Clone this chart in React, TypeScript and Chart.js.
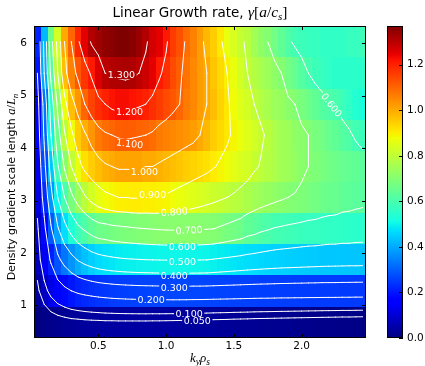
import React, { useEffect, useRef } from "react";
import { Chart, registerables } from "chart.js";

Chart.register(...registerables);

// ---------- data ----------
const KY = [0.05, 0.10, 0.15, 0.20, 0.25, 0.30, 0.35, 0.40, 0.45, 0.50, 0.55, 0.60, 0.65, 0.70, 0.75, 0.80, 0.85, 0.90, 0.95, 1.00, 1.05, 1.10, 1.15, 1.20, 1.25, 1.30, 1.35, 1.40, 1.45, 1.50, 1.55, 1.60, 1.65, 1.70, 1.75, 1.80, 1.85, 1.90, 1.95, 2.00, 2.05, 2.10, 2.15, 2.20, 2.25, 2.30, 2.35, 2.40, 2.45];
const A_LN = [0.68, 1.28, 1.87, 2.46, 3.06, 3.65, 4.25, 4.84, 5.43, 6.03];

const GAMMA_068 = [0.0, 0.01, 0.015, 0.02, 0.025, 0.03, 0.032, 0.035, 0.037, 0.038, 0.04, 0.04, 0.041, 0.041, 0.041, 0.041, 0.041, 0.04, 0.04, 0.039, 0.038, 0.037, 0.036, 0.035, 0.034, 0.033, 0.031, 0.03, 0.029, 0.027, 0.026, 0.025, 0.023, 0.022, 0.021, 0.02, 0.019, 0.018, 0.017, 0.016, 0.015, 0.014, 0.013, 0.012, 0.011, 0.01, 0.01, 0.009, 0.008];
const GAMMA_128 = [0.04, 0.08, 0.12, 0.155, 0.18, 0.20, 0.215, 0.225, 0.233, 0.24, 0.245, 0.25, 0.253, 0.256, 0.258, 0.26, 0.261, 0.262, 0.263, 0.264, 0.265, 0.265, 0.265, 0.264, 0.264, 0.263, 0.262, 0.261, 0.26, 0.259, 0.258, 0.257, 0.256, 0.255, 0.255, 0.254, 0.253, 0.253, 0.252, 0.252, 0.251, 0.251, 0.25, 0.25, 0.25, 0.249, 0.249, 0.248, 0.248];
const GAMMA_187 = [0.07, 0.14, 0.21, 0.28, 0.33, 0.37, 0.405, 0.43, 0.45, 0.465, 0.475, 0.482, 0.488, 0.492, 0.495, 0.497, 0.499, 0.50, 0.501, 0.502, 0.503, 0.503, 0.503, 0.502, 0.501, 0.50, 0.495, 0.49, 0.485, 0.48, 0.475, 0.47, 0.466, 0.462, 0.458, 0.455, 0.452, 0.45, 0.448, 0.446, 0.444, 0.442, 0.44, 0.439, 0.438, 0.437, 0.436, 0.436, 0.435];
const GAMMA_246 = [0.09, 0.18, 0.29, 0.39, 0.47, 0.53, 0.58, 0.61, 0.64, 0.66, 0.665, 0.675, 0.68, 0.685, 0.69, 0.695, 0.698, 0.702, 0.705, 0.707, 0.708, 0.708, 0.708, 0.707, 0.705, 0.702, 0.70, 0.69, 0.68, 0.67, 0.66, 0.64, 0.63, 0.615, 0.605, 0.595, 0.59, 0.585, 0.58, 0.575, 0.57, 0.57, 0.565, 0.56, 0.56, 0.555, 0.555, 0.55, 0.549];
const GAMMA_306 = [0.12, 0.23, 0.37, 0.50, 0.60, 0.68, 0.74, 0.79, 0.83, 0.86, 0.88, 0.89, 0.90, 0.90, 0.905, 0.905, 0.90, 0.90, 0.895, 0.89, 0.88, 0.87, 0.86, 0.85, 0.84, 0.83, 0.82, 0.81, 0.80, 0.79, 0.78, 0.765, 0.75, 0.74, 0.73, 0.72, 0.71, 0.70, 0.695, 0.69, 0.68, 0.67, 0.66, 0.655, 0.65, 0.64, 0.635, 0.63, 0.624];
const GAMMA_365 = [0.13, 0.27, 0.44, 0.59, 0.71, 0.80, 0.87, 0.92, 0.95, 0.97, 0.99, 1.00, 1.01, 1.01, 1.01, 1.01, 1.00, 1.00, 0.99, 0.98, 0.97, 0.96, 0.95, 0.94, 0.93, 0.92, 0.905, 0.89, 0.88, 0.86, 0.84, 0.83, 0.81, 0.795, 0.78, 0.77, 0.75, 0.74, 0.73, 0.71, 0.70, 0.69, 0.68, 0.67, 0.66, 0.65, 0.645, 0.64, 0.63];
const GAMMA_425 = [0.15, 0.31, 0.50, 0.66, 0.79, 0.88, 0.95, 0.99, 1.03, 1.07, 1.09, 1.10, 1.11, 1.115, 1.11, 1.105, 1.10, 1.09, 1.07, 1.06, 1.05, 1.04, 1.03, 1.02, 1.00, 0.98, 0.95, 0.93, 0.91, 0.89, 0.87, 0.85, 0.83, 0.81, 0.79, 0.77, 0.75, 0.74, 0.72, 0.71, 0.70, 0.68, 0.67, 0.65, 0.64, 0.62, 0.61, 0.59, 0.575];
const GAMMA_484 = [0.17, 0.33, 0.54, 0.72, 0.87, 0.97, 1.03, 1.10, 1.15, 1.18, 1.20, 1.22, 1.23, 1.23, 1.22, 1.21, 1.20, 1.18, 1.16, 1.14, 1.12, 1.10, 1.07, 1.05, 1.02, 1.00, 0.97, 0.94, 0.91, 0.88, 0.85, 0.83, 0.80, 0.78, 0.76, 0.74, 0.73, 0.71, 0.70, 0.68, 0.66, 0.64, 0.62, 0.61, 0.60, 0.58, 0.56, 0.54, 0.52];
const GAMMA_543 = [0.20, 0.40, 0.62, 0.80, 0.97, 1.06, 1.12, 1.17, 1.21, 1.26, 1.30, 1.31, 1.315, 1.32, 1.315, 1.30, 1.28, 1.25, 1.21, 1.18, 1.14, 1.11, 1.08, 1.05, 1.02, 1.00, 0.96, 0.93, 0.90, 0.87, 0.83, 0.80, 0.78, 0.76, 0.74, 0.72, 0.70, 0.67, 0.65, 0.62, 0.60, 0.58, 0.57, 0.56, 0.55, 0.55, 0.55, 0.55, 0.55];
const GAMMA_603 = [0.22, 0.42, 0.66, 0.83, 1.00, 1.10, 1.19, 1.25, 1.31, 1.33, 1.35, 1.36, 1.37, 1.37, 1.36, 1.34, 1.31, 1.27, 1.25, 1.21, 1.16, 1.13, 1.09, 1.06, 1.02, 0.98, 0.95, 0.91, 0.87, 0.84, 0.81, 0.79, 0.75, 0.72, 0.70, 0.67, 0.64, 0.61, 0.59, 0.58, 0.57, 0.57, 0.56, 0.56, 0.56, 0.56, 0.57, 0.57, 0.58];

const GAMMA = [GAMMA_068, GAMMA_128, GAMMA_187, GAMMA_246, GAMMA_306, GAMMA_365, GAMMA_425, GAMMA_484, GAMMA_543, GAMMA_603];

const CONTOUR_LEVELS = [0.05, 0.1, 0.2, 0.3, 0.4, 0.5, 0.6, 0.7, 0.8, 0.9, 1.0, 1.1, 1.2, 1.3];
const CONTOUR_LABELS = [
  { level: 1.3, ky: 0.67, aLn: 5.40, rot: 0 },
  { level: 1.2, ky: 0.73, aLn: 4.68, rot: 0 },
  { level: 1.1, ky: 0.73, aLn: 4.08, rot: 7 },
  { level: 1.0, ky: 0.84, aLn: 3.55, rot: 0 },
  { level: 0.9, ky: 0.90, aLn: 3.11, rot: 0 },
  { level: 0.8, ky: 1.06, aLn: 2.78, rot: -4 },
  { level: 0.7, ky: 1.17, aLn: 2.43, rot: -3 },
  { level: 0.6, ky: 1.12, aLn: 2.12, rot: 0 },
  { level: 0.5, ky: 1.12, aLn: 1.83, rot: 0 },
  { level: 0.4, ky: 1.06, aLn: 1.57, rot: 0 },
  { level: 0.3, ky: 1.06, aLn: 1.34, rot: 0 },
  { level: 0.2, ky: 0.89, aLn: 1.10, rot: 0 },
  { level: 0.1, ky: 1.17, aLn: 0.84, rot: 0 },
  { level: 0.05, ky: 1.23, aLn: 0.71, rot: 0 },
  { level: 0.6, ky: 2.22, aLn: 4.82, rot: 52 },
];

const X_TICKS = [0.5, 1.0, 1.5, 2.0];
const Y_TICKS = [1, 2, 3, 4, 5, 6];
const CB_TICKS = [0.0, 0.2, 0.4, 0.6, 0.8, 1.0, 1.2];

// ---------- helpers ----------
function edgesOf(c: number[]) {
  const n = c.length;
  const e = [c[0] - (c[1] - c[0]) / 2];
  for (let i = 0; i < n - 1; i++) e.push((c[i] + c[i + 1]) / 2);
  e.push(c[n - 1] + (c[n - 1] - c[n - 2]) / 2);
  return e;
}
const KY_EDGES = edgesOf(KY);
const A_EDGES = edgesOf(A_LN);
const V_MIN = 0;
const V_MAX = Math.max(...GAMMA.map((r) => Math.max(...r)));

const JET_R = [[0, 0], [0.35, 0], [0.66, 1], [0.89, 1], [1, 0.5]];
const JET_G = [[0, 0], [0.125, 0], [0.375, 1], [0.64, 1], [0.91, 0], [1, 0]];
const JET_B = [[0, 0.5], [0.11, 1], [0.34, 1], [0.65, 0], [1, 0]];
function seg(s: number[][], t: number) {
  if (t <= s[0][0]) return s[0][1];
  for (let i = 0; i < s.length - 1; i++) {
    if (t <= s[i + 1][0]) {
      const f = (t - s[i][0]) / (s[i + 1][0] - s[i][0]);
      return s[i][1] + f * (s[i + 1][1] - s[i][1]);
    }
  }
  return s[s.length - 1][1];
}
function jet(v: number) {
  const t = Math.min(1, Math.max(0, (v - V_MIN) / (V_MAX - V_MIN)));
  const r = Math.round(seg(JET_R, t) * 255);
  const g = Math.round(seg(JET_G, t) * 255);
  const b = Math.round(seg(JET_B, t) * 255);
  return `rgb(${r},${g},${b})`;
}

function contourSegments(level: number) {
  const out: number[][] = [];
  for (let r = 0; r < A_LN.length - 1; r++) {
    for (let k = 0; k < KY.length - 1; k++) {
      const va = GAMMA[r][k], vb = GAMMA[r][k + 1], vc = GAMMA[r + 1][k + 1], vd = GAMMA[r + 1][k];
      const xa = KY[k], xb = KY[k + 1], y0 = A_LN[r], y1 = A_LN[r + 1];
      const pts: (number[] | null)[] = [null, null, null, null];
      const cross = (p: number, q: number) => (p < level) !== (q < level);
      if (cross(va, vb)) { const t = (level - va) / (vb - va); pts[0] = [xa + t * (xb - xa), y0]; }
      if (cross(vb, vc)) { const t = (level - vb) / (vc - vb); pts[1] = [xb, y0 + t * (y1 - y0)]; }
      if (cross(vd, vc)) { const t = (level - vd) / (vc - vd); pts[2] = [xa + t * (xb - xa), y1]; }
      if (cross(va, vd)) { const t = (level - va) / (vd - va); pts[3] = [xa, y0 + t * (y1 - y0)]; }
      const present = pts.filter((p) => p) as number[][];
      if (present.length === 2) {
        out.push([present[0][0], present[0][1], present[1][0], present[1][1]]);
      } else if (present.length === 4) {
        const center = (va + vb + vc + vd) / 4;
        const p = pts as number[][];
        if ((center < level) === (va < level)) {
          out.push([p[0][0], p[0][1], p[1][0], p[1][1]]);
          out.push([p[2][0], p[2][1], p[3][0], p[3][1]]);
        } else {
          out.push([p[0][0], p[0][1], p[3][0], p[3][1]]);
          out.push([p[1][0], p[1][1], p[2][0], p[2][1]]);
        }
      }
    }
  }
  return out;
}

type Run = { t: string; f: string; dy?: number };
function drawRuns(ctx: CanvasRenderingContext2D, runs: Run[], cx: number, baseline: number) {
  let total = 0;
  for (const r of runs) { ctx.font = r.f; total += ctx.measureText(r.t).width; }
  let x = cx - total / 2;
  ctx.textAlign = "left";
  ctx.textBaseline = "alphabetic";
  for (const r of runs) {
    ctx.font = r.f;
    ctx.fillText(r.t, x, baseline + (r.dy || 0));
    x += ctx.measureText(r.t).width;
  }
}

const SANS = '"DejaVu Sans", sans-serif';
const MATH_I = (s: number) => `italic ${s}px "Liberation Serif", serif`;
const MATH_R = (s: number) => `${s}px "Liberation Serif", serif`;
const LABEL_FONT = `9.5px ${SANS}`;

const heatmapPlugin = {
  id: "heatmapContours",
  beforeDatasetsDraw(chart: any) {
    const { ctx, chartArea: ca, scales } = chart;
    const xs = scales.x, ys = scales.y;
    ctx.save();
    ctx.beginPath();
    ctx.rect(ca.left, ca.top, ca.right - ca.left, ca.bottom - ca.top);
    ctx.clip();
    for (let r = 0; r < A_LN.length; r++) {
      const yTop = Math.round(ys.getPixelForValue(A_EDGES[r + 1]));
      const yBot = Math.round(ys.getPixelForValue(A_EDGES[r]));
      for (let k = 0; k < KY.length; k++) {
        const x0 = Math.round(xs.getPixelForValue(KY_EDGES[k]));
        const x1 = Math.round(xs.getPixelForValue(KY_EDGES[k + 1]));
        ctx.fillStyle = jet(GAMMA[r][k]);
        ctx.fillRect(x0, yTop, x1 - x0, yBot - yTop);
      }
    }
    ctx.restore();

    // contour lines with gaps for labels
    ctx.save();
    ctx.font = LABEL_FONT;
    ctx.beginPath();
    ctx.rect(ca.left, ca.top, ca.right - ca.left, ca.bottom - ca.top);
    for (const lb of CONTOUR_LABELS) {
      const cx = xs.getPixelForValue(lb.ky), cy = ys.getPixelForValue(lb.aLn);
      const w = ctx.measureText(lb.level.toFixed(3)).width + 3, h = 9;
      const a = (lb.rot * Math.PI) / 180, c = Math.cos(a), s = Math.sin(a);
      const corners = [[-w / 2, -h / 2], [w / 2, -h / 2], [w / 2, h / 2], [-w / 2, h / 2]].map(
        ([u, v]) => [cx + u * c - v * s, cy + u * s + v * c]
      );
      ctx.moveTo(corners[0][0], corners[0][1]);
      for (let i = 1; i < 4; i++) ctx.lineTo(corners[i][0], corners[i][1]);
      ctx.closePath();
    }
    ctx.clip("evenodd");
    ctx.strokeStyle = "#ffffff";
    ctx.lineWidth = 1;
    ctx.lineCap = "round";
    ctx.lineJoin = "round";
    for (const L of CONTOUR_LEVELS) {
      const segs = contourSegments(L);
      ctx.beginPath();
      for (const [x0, y0, x1, y1] of segs) {
        ctx.moveTo(xs.getPixelForValue(x0), ys.getPixelForValue(y0));
        ctx.lineTo(xs.getPixelForValue(x1), ys.getPixelForValue(y1));
      }
      ctx.stroke();
    }
    ctx.restore();

    // contour labels
    ctx.save();
    ctx.fillStyle = "#ffffff";
    ctx.font = LABEL_FONT;
    ctx.textAlign = "center";
    ctx.textBaseline = "middle";
    for (const lb of CONTOUR_LABELS) {
      const cx = xs.getPixelForValue(lb.ky), cy = ys.getPixelForValue(lb.aLn);
      ctx.save();
      ctx.translate(cx, cy);
      ctx.rotate((lb.rot * Math.PI) / 180);
      ctx.fillText(lb.level.toFixed(3), 0, 0.5);
      ctx.restore();
    }
    ctx.restore();
  },
};

const decorPlugin = {
  id: "decor",
  afterDraw(chart: any) {
    const { ctx, chartArea: ca, scales } = chart;
    const xs = scales.x, ys = scales.y, cb = scales.cb;
    ctx.save();
    ctx.strokeStyle = "#000";
    ctx.lineWidth = 1;
    // frame
    ctx.strokeRect(ca.left + 0.5, ca.top + 0.5, ca.right - ca.left - 1, ca.bottom - ca.top - 1);
    // inward ticks
    ctx.beginPath();
    for (const v of X_TICKS) {
      const px = Math.round(xs.getPixelForValue(v)) + 0.5;
      ctx.moveTo(px, ca.bottom); ctx.lineTo(px, ca.bottom - 4);
      ctx.moveTo(px, ca.top); ctx.lineTo(px, ca.top + 4);
    }
    for (const v of Y_TICKS) {
      const py = Math.round(ys.getPixelForValue(v)) + 0.5;
      ctx.moveTo(ca.left, py); ctx.lineTo(ca.left + 4, py);
      ctx.moveTo(ca.right, py); ctx.lineTo(ca.right - 4, py);
    }
    ctx.stroke();

    // colorbar
    const bx = Math.round(ca.right) + 21, bw = 16;
    const top = Math.round(cb.getPixelForValue(V_MAX)), bot = Math.round(cb.getPixelForValue(V_MIN));
    for (let py = top; py < bot; py++) {
      const v = cb.getValueForPixel(py + 0.5);
      ctx.fillStyle = jet(v);
      ctx.fillRect(bx, py, bw, 1);
    }
    ctx.strokeRect(bx + 0.5, top + 0.5, bw - 1, bot - top - 1);
    ctx.beginPath();
    for (const v of CB_TICKS) {
      const py = Math.round(cb.getPixelForValue(v)) + 0.5;
      ctx.moveTo(bx + bw, py); ctx.lineTo(bx + bw - 4, py);
    }
    ctx.stroke();

    // title
    ctx.fillStyle = "#000";
    const cx = (ca.left + ca.right) / 2;
    drawRuns(ctx, [
      { t: "Linear Growth rate, ", f: `13.5px ${SANS}` },
      { t: "\u03b3", f: MATH_I(15.5) },
      { t: "[", f: MATH_R(15.5) },
      { t: "a", f: MATH_I(15.5) },
      { t: "/", f: MATH_R(15.5) },
      { t: "c", f: MATH_I(15.5) },
      { t: "s", f: MATH_I(11), dy: 3 },
      { t: "]", f: MATH_R(15.5) },
    ], cx, 17);

    // x label
    drawRuns(ctx, [
      { t: "k", f: MATH_I(13) },
      { t: "y", f: MATH_I(9.5), dy: 3 },
      { t: "\u03c1", f: MATH_I(13) },
      { t: "s", f: MATH_I(9.5), dy: 3 },
    ], cx, 362);

    // y label
    ctx.save();
    ctx.translate(15, (ca.top + ca.bottom) / 2 + 5);
    ctx.rotate(-Math.PI / 2);
    drawRuns(ctx, [
      { t: "Density gradient scale length ", f: `11px ${SANS}` },
      { t: "a", f: MATH_I(12.5) },
      { t: "/", f: MATH_R(12.5) },
      { t: "L", f: MATH_I(12.5) },
      { t: "n", f: MATH_I(9), dy: 2.5 },
    ], 0, 0);
    ctx.restore();
    ctx.restore();
  },
};

function zeroPad(s: any) {
  s.paddingTop = 0;
  s.paddingBottom = 0;
  s.paddingLeft = 0;
  s.paddingRight = 0;
}

export default function App() {
  const ref = useRef<HTMLCanvasElement>(null);
  useEffect(() => {
    const canvas = ref.current;
    if (!canvas) return;
    const tickFont = { family: "DejaVu Sans", size: 10.5 };
    const chart = new Chart(canvas, {
      type: "scatter",
      data: { datasets: [{ data: [], pointRadius: 0 }] },
      options: {
        animation: false,
        responsive: false,
        maintainAspectRatio: false,
        devicePixelRatio: 1,
        layout: { padding: { top: 26, left: 0, right: 0, bottom: 0 } },
        plugins: { legend: { display: false }, tooltip: { enabled: false }, title: { display: false } },
        scales: {
          x: {
            type: "linear",
            min: KY_EDGES[0],
            max: KY_EDGES[KY_EDGES.length - 1],
            grid: { display: false, drawTicks: false },
            border: { display: false },
            afterBuildTicks: (s: any) => { s.ticks = X_TICKS.map((v) => ({ value: v })); },
            afterFit: (s: any) => { s.height = 28; zeroPad(s); },
            ticks: { font: tickFont, color: "#000", padding: 2, maxRotation: 0, autoSkip: false, callback: (v: any) => Number(v).toFixed(1) },
          },
          y: {
            type: "linear",
            min: A_EDGES[0],
            max: A_EDGES[A_EDGES.length - 1],
            grid: { display: false, drawTicks: false },
            border: { display: false },
            afterBuildTicks: (s: any) => { s.ticks = Y_TICKS.map((v) => ({ value: v })); },
            afterFit: (s: any) => { s.width = 34; zeroPad(s); },
            ticks: { font: tickFont, color: "#000", padding: 7, autoSkip: false, callback: (v: any) => String(Number(v)) },
          },
          cb: {
            type: "linear",
            axis: "y",
            position: "right",
            min: V_MIN,
            max: V_MAX,
            grid: { display: false, drawTicks: false },
            border: { display: false },
            afterBuildTicks: (s: any) => { s.ticks = CB_TICKS.map((v) => ({ value: v })); },
            afterFit: (s: any) => { s.width = 59; zeroPad(s); },
            ticks: { font: tickFont, color: "#000", padding: 41, autoSkip: false, callback: (v: any) => Number(v).toFixed(1) },
          },
        },
      } as any,
      plugins: [heatmapPlugin, decorPlugin],
    });
    return () => chart.destroy();
  }, []);
  return (
    <div style={{ position: "fixed", left: 0, top: 0, width: 425, height: 366, background: "#fff" }}>
      <canvas ref={ref} width={425} height={366} style={{ display: "block" }} />
    </div>
  );
}
